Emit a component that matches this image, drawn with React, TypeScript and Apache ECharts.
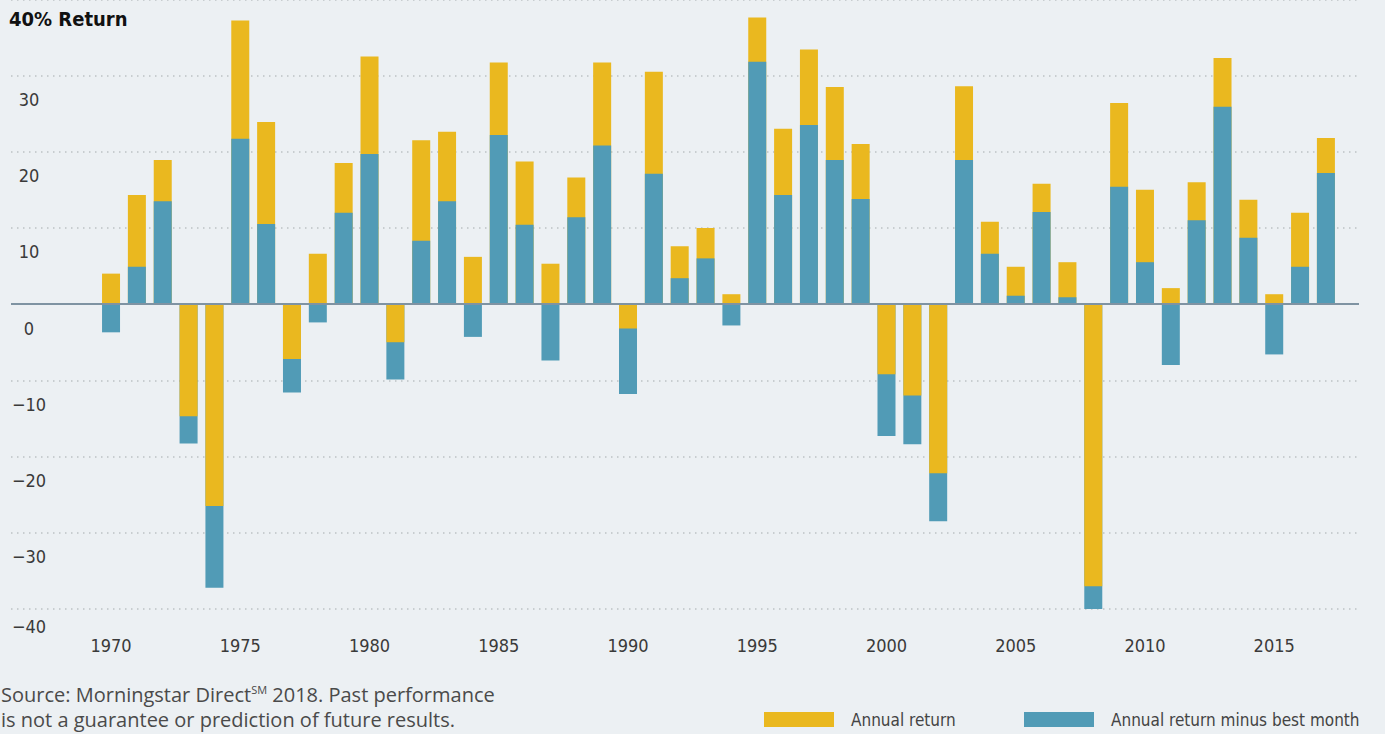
import React, { useEffect, useRef } from "react";
import * as echarts from "echarts";

// ---- data ----
const years = [
  1970, 1971, 1972, 1973, 1974, 1975, 1976, 1977, 1978, 1979,
  1980, 1981, 1982, 1983, 1984, 1985, 1986, 1987, 1988, 1989,
  1990, 1991, 1992, 1993, 1994, 1995, 1996, 1997, 1998, 1999,
  2000, 2001, 2002, 2003, 2004, 2005, 2006, 2007, 2008, 2009,
  2010, 2011, 2012, 2013, 2014, 2015, 2016, 2017,
];
const annualReturn = [
  4.0, 14.3, 18.9, -14.7, -26.5, 37.2, 23.9, -7.2, 6.6, 18.5,
  32.5, -5.0, 21.5, 22.6, 6.2, 31.7, 18.7, 5.3, 16.6, 31.7,
  -3.2, 30.5, 7.6, 10.0, 1.3, 37.6, 23.0, 33.4, 28.5, 21.0,
  -9.2, -12.0, -22.2, 28.6, 10.8, 4.9, 15.8, 5.5, -37.0, 26.4,
  15.0, 2.1, 16.0, 32.3, 13.7, 1.3, 12.0, 21.8,
];
const minusBestMonth = [
  -3.7, 4.9, 13.5, -18.3, -37.2, 21.7, 10.5, -11.6, -2.4, 12.0,
  19.7, -9.9, 8.3, 13.5, -4.3, 22.2, 10.4, -7.4, 11.4, 20.8,
  -11.8, 17.1, 3.4, 6.0, -2.8, 31.8, 14.3, 23.5, 18.9, 13.8,
  -17.3, -18.4, -28.5, 18.9, 6.6, 1.1, 12.1, 0.9, -40.0, 15.4,
  5.5, -8.0, 11.0, 25.9, 8.7, -6.6, 4.9, 17.2,
];
const xTickYears = [1970, 1975, 1980, 1985, 1990, 1995, 2000, 2005, 2010, 2015];
const yTicks = [-40, -30, -20, -10, 0, 10, 20, 30];
const seriesNames = ["Annual return", "Annual return minus best month"];
const titleText = "40% Return";
const sourceLine1a = "Source: Morningstar Direct";
const sourceSup = "SM";
const sourceLine1b = " 2018. Past performance";
const sourceLine2 = "is not a guarantee or prediction of future results.";

const YELLOW = "#EAB81F";
const BLUE = "#519BB6";
const COND = "'Liberation Sans Narrow', 'DejaVu Sans Condensed', 'Roboto', sans-serif";
const TEXT = "#3a3a3a";

export default function App() {
  const ref = useRef<HTMLDivElement>(null);

  useEffect(() => {
    if (!ref.current) return;
    const chart = echarts.init(ref.current, null, { renderer: "svg" });

    const backIsYellow = annualReturn.map(
      (a, i) => Math.abs(a) >= Math.abs(minusBestMonth[i])
    );
    const yellowBack = years.map((y, i) => [y, backIsYellow[i] ? annualReturn[i] : "-"]);
    const blueBack = years.map((y, i) => [y, !backIsYellow[i] ? minusBestMonth[i] : "-"]);
    const yellowFront = years.map((y, i) => [y, !backIsYellow[i] ? annualReturn[i] : "-"]);
    const blueFront = years.map((y, i) => [y, backIsYellow[i] ? minusBestMonth[i] : "-"]);

    const barCommon = {
      type: "bar",
      barWidth: 18,
      barGap: "-100%",
      silent: true,
    };

    const legendCommon = {
      top: 711,
      padding: 0,
      icon: "rect",
      itemWidth: 70,
      itemHeight: 15,
      selectedMode: false,
      textStyle: {
        fontFamily: COND,
        fontSize: 17,
        color: "#444",
        padding: [0, 0, 0, 12],
      },
    };

    chart.setOption({
      animation: false,
      backgroundColor: "#ECF0F3",
      grid: { left: 11, right: 26, top: 0, height: 609, containLabel: false },
      legend: [
        { ...legendCommon, data: [seriesNames[0]], left: 764 },
        { ...legendCommon, data: [seriesNames[1]], left: 1024 },
      ],
      xAxis: {
        type: "value",
        min: 1966.13,
        max: 2018.28,
        axisLine: { show: false },
        axisTick: { show: false },
        splitLine: { show: false },
        axisLabel: {
          customValues: xTickYears,
          formatter: (v: number) => String(Math.round(v)),
          fontFamily: COND,
          fontSize: 18,
          color: TEXT,
          margin: 27,
        },
      },
      yAxis: {
        type: "value",
        min: -40,
        max: 39.9,
        interval: 10,
        axisLine: { show: false },
        axisTick: { show: false },
        splitLine: {
          show: true,
          lineStyle: { color: "#BCC1C5", width: 1.5, type: [1.5, 4.5] },
        },
        axisLabel: {
          inside: true,
          align: "center",
          margin: 18,
          verticalAlign: "top",
          fontFamily: COND,
          fontSize: 18,
          color: TEXT,
          formatter: (v: number) => {
            if (!yTicks.includes(v)) return "";
            const s = String(v).replace("-", "\u2212");
            return v === -40 ? `{m|${s}}` : `{n|${s}}`;
          },
          rich: {
            n: { fontFamily: COND, fontSize: 18, color: TEXT, padding: [15, 0, 0, 0] },
            m: { fontFamily: COND, fontSize: 18, color: TEXT, padding: [8, 0, 0, 0] },
          },
        },
      },
      series: [
        { ...barCommon, name: seriesNames[0], data: yellowBack, itemStyle: { color: YELLOW } },
        { ...barCommon, name: seriesNames[1], data: blueBack, itemStyle: { color: BLUE } },
        { ...barCommon, name: seriesNames[0], data: yellowFront, itemStyle: { color: YELLOW } },
        {
          ...barCommon,
          name: seriesNames[1],
          data: blueFront,
          itemStyle: { color: BLUE },
          markLine: {
            silent: true,
            symbol: ["none", "none"],
            label: { show: false },
            lineStyle: { color: "#7F93A2", width: 2, type: "solid" },
            data: [{ yAxis: 0 }],
          },
        },
      ],
      graphic: [
        {
          type: "text",
          x: 9,
          y: 9,
          style: {
            text: titleText,
            fontFamily: COND,
            fontWeight: "bold",
            fontSize: 20,
            fill: "#111",
          },
        },
        {
          type: "text",
          x: 1,
          y: 682,
          style: {
            text:
              `{n|${sourceLine1a}}{sup|${sourceSup}}{n|${sourceLine1b}}\n{n|${sourceLine2}}`,
            rich: {
              n: { fontFamily: "'Open Sans', sans-serif", fontSize: 20, fill: "#4a4a4a", lineHeight: 25 },
              sup: {
                fontFamily: "'Open Sans', sans-serif",
                fontSize: 11,
                fill: "#4a4a4a",
                lineHeight: 25,
                padding: [0, 0, 10, 0],
              },
            },
          },
        },
      ],
    });

    return () => chart.dispose();
  }, []);

  return (
    <div
      ref={ref}
      style={{ position: "fixed", left: 0, top: 0, width: 1385, height: 734 }}
    />
  );
}
